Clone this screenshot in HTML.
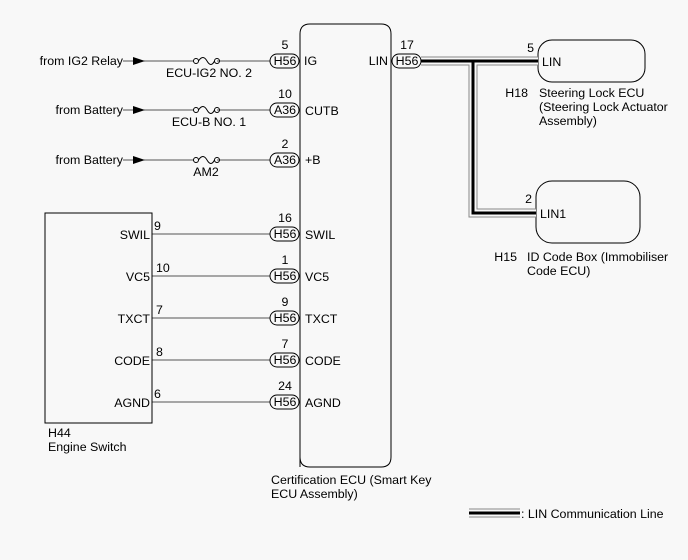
<!DOCTYPE html><html><head><style>body{margin:0;background:#f8f8f8}svg{display:block}text{font-family:"Liberation Sans",sans-serif;font-size:12.4px;fill:#000}</style></head><body>
<svg width="688" height="560" viewBox="0 0 688 560">
<rect width="688" height="560" fill="#f8f8f8"/>
<g stroke="#555" stroke-width="1" fill="none">
<line x1="123" y1="61" x2="194" y2="61"/><line x1="217" y1="61" x2="270" y2="61"/>
<line x1="123" y1="110" x2="194" y2="110"/><line x1="217" y1="110" x2="270" y2="110"/>
<line x1="123" y1="160" x2="194" y2="160"/><line x1="217" y1="160" x2="270" y2="160"/>
<line x1="152" y1="234" x2="270" y2="234"/><line x1="152" y1="276" x2="270" y2="276"/>
<line x1="152" y1="318" x2="270" y2="318"/><line x1="152" y1="360" x2="270" y2="360"/>
<line x1="152" y1="402" x2="270" y2="402"/>
</g>
<g fill="#000"><polygon points="133,57 145,61 133,65"/><polygon points="133,106 145,110 133,114"/><polygon points="133,156 145,160 133,164"/></g>
<g stroke="#000" fill="none" stroke-width="1">
<g id="f"><circle cx="196" cy="61" r="2.5"/><circle cx="217" cy="61" r="2.5"/><path d="M198.5,61 Q203,54 207,61 Q211,68 214.5,61"/></g>
<use href="#f" y="49"/><use href="#f" y="99"/>
<rect x="45" y="213" width="107" height="210"/>
<path d="M300,467 V34 Q300,24 310,24 H381 Q391,24 391,34 V457 Q391,467 381,467 H310 Q300,467 300,457Z"/>
<rect x="538" y="40" width="107" height="42" rx="14"/>
<rect x="536" y="181" width="104" height="62" rx="16"/>
</g>
<g stroke="#888" stroke-width="9" fill="none"><path d="M421,61 H538"/><path d="M473,61 V213 H536"/></g>
<g stroke="#f8f8f8" stroke-width="7" fill="none"><path d="M421,61 H538"/><path d="M473,61 V213 H536"/></g>
<g stroke="#000" stroke-width="3" fill="none"><path d="M421,61 H538"/><path d="M473,61 V213 H536"/></g>
<g stroke="#000" fill="#f8f8f8">
<rect x="270" y="54" width="29" height="14" rx="7"/><rect x="270" y="103" width="29" height="14" rx="7"/><rect x="270" y="153" width="29" height="14" rx="7"/>
<rect x="270" y="227" width="29" height="14" rx="7"/><rect x="270" y="269" width="29" height="14" rx="7"/><rect x="270" y="311" width="29" height="14" rx="7"/><rect x="270" y="353" width="29" height="14" rx="7"/><rect x="270" y="395" width="29" height="14" rx="7"/>
<rect x="392" y="54" width="29" height="14" rx="7"/>
</g>
<g text-anchor="middle">
<text x="285" y="65">H56</text><text x="285" y="114">A36</text><text x="285" y="164">A36</text>
<text x="285" y="238">H56</text><text x="285" y="280">H56</text><text x="285" y="322">H56</text><text x="285" y="364">H56</text><text x="285" y="406">H56</text>
<text x="407" y="65">H56</text>
<text x="285" y="49">5</text><text x="285" y="98">10</text><text x="285" y="148">2</text>
<text x="285" y="222">16</text><text x="285" y="264">1</text><text x="285" y="306">9</text><text x="285" y="348">7</text><text x="285" y="390">24</text>
<text x="407" y="49">17</text>
<text x="209" y="77">ECU-IG2 NO. 2</text><text x="209" y="126">ECU-B NO. 1</text><text x="206" y="176">AM2</text>
</g>
<g text-anchor="end">
<text x="123" y="65">from IG2 Relay</text><text x="123" y="114">from Battery</text><text x="123" y="164">from Battery</text>
<text x="150" y="239">SWIL</text><text x="150" y="281">VC5</text><text x="150" y="323">TXCT</text><text x="150" y="365">CODE</text><text x="150" y="407">AGND</text>
<text x="388" y="65">LIN</text>
<text x="534" y="52">5</text><text x="532" y="203">2</text>
<text x="528" y="97">H18</text><text x="517" y="261">H15</text>
</g>
<text x="304" y="65">IG</text><text x="305" y="115">CUTB</text><text x="305" y="164">+B</text>
<text x="305" y="239">SWIL</text><text x="305" y="281">VC5</text><text x="305" y="323">TXCT</text><text x="305" y="365">CODE</text><text x="305" y="407">AGND</text>
<text x="154" y="230">9</text><text x="156" y="272">10</text><text x="156" y="314">7</text><text x="156" y="356">8</text><text x="154" y="398">6</text>
<text x="542" y="66">LIN</text><text x="540" y="218">LIN1</text>
<text x="539" y="97">Steering Lock ECU</text><text x="539" y="111">(Steering Lock Actuator</text><text x="539" y="125">Assembly)</text>
<text x="527" y="261">ID Code Box (Immobiliser</text><text x="527" y="275">Code ECU)</text>
<text x="48" y="437">H44</text><text x="48" y="451">Engine Switch</text>
<text x="271" y="484">Certification ECU (Smart Key</text><text x="271" y="498">ECU Assembly)</text>
<g fill="none"><line x1="469" y1="513" x2="520" y2="513" stroke="#888" stroke-width="9"/><line x1="469" y1="513" x2="520" y2="513" stroke="#f8f8f8" stroke-width="7"/><line x1="469" y1="513" x2="520" y2="513" stroke="#000" stroke-width="3"/></g>
<text x="521" y="518">: LIN Communication Line</text>
</svg></body></html>
